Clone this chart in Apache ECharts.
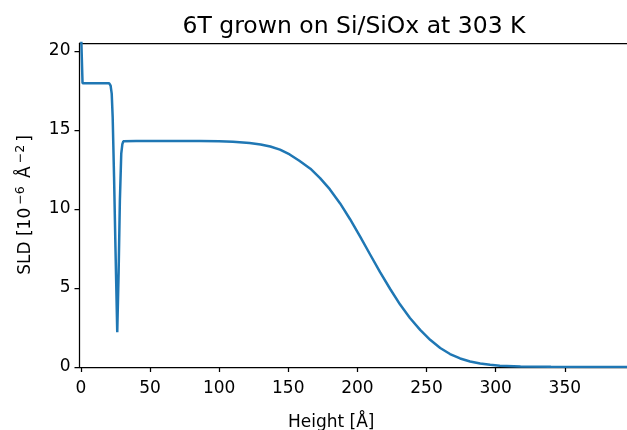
<!DOCTYPE html>
<html>
<head>
<meta charset="utf-8">
<script src="https://cdn.jsdelivr.net/npm/echarts@6/dist/echarts.min.js"></script>
<style>
  html, body { margin: 0; padding: 0; background: #fff; }
  #chart { width: 627px; height: 430px; }
</style>
</head>
<body>
<div id="chart"></div>
<script>
// SLD depth profile of a 6T film on Si/SiOx at 303 K
const heightA = [
  0.3, 1.2, 10, 20.5, 21.5, 22.3, 23, 24, 25, 26.3, 27.3, 28.2, 29.2, 30, 30.7,
  40, 60, 86, 100, 110, 122, 130, 137, 144, 151, 158, 166, 173, 180, 187.5,
  194.7, 202, 209, 216.4, 223.6, 230.9, 238, 245.4, 252.6, 259.9, 267, 274.3,
  281.5, 288.8, 296, 303, 318, 340, 370, 395
];
const sld = [
  20.7, 17.95, 17.95, 17.95, 17.8, 17.3, 15.8, 12.0, 7.6, 2.2, 6.0, 10.5, 13.5, 14.1, 14.28,
  14.3, 14.3, 14.3, 14.28, 14.25, 14.17, 14.08, 13.95, 13.75, 13.45, 13.05, 12.55, 11.95, 11.25, 10.35,
  9.35, 8.25, 7.15, 6.0, 4.95, 3.95, 3.1, 2.35, 1.72, 1.2, 0.82, 0.54,
  0.35, 0.22, 0.14, 0.08, 0.03, 0.01, 0.0, 0.0
];
const xTicks = [0, 50, 100, 150, 200, 250, 300, 350];
const yTicks = [0, 5, 10, 15, 20];

const points = heightA.map((h, i) => [h, sld[i]]);
const FONT = 'DejaVu Sans';
const axisLineStyle = { color: '#000', width: 1.25 };

const chart = echarts.init(document.getElementById('chart'), null, { renderer: 'canvas' });
chart.setOption({
  animation: false,
  backgroundColor: '#fff',
  title: {
    text: '6T grown on Si/SiOx at 303 K',
    left: 349, top: 10, textAlign: 'center',
    textStyle: { fontFamily: FONT, fontSize: 23.5, fontWeight: 'normal', color: '#000' }
  },
  grid: { left: 79.5, right: 0, top: 43, bottom: 63, outerBoundsMode: 'none', containLabel: false },
  xAxis: [{
    type: 'value', min: -1, max: 395,
    name: 'Height [Å]', nameLocation: 'middle', nameGap: 47,
    nameTextStyle: { fontFamily: FONT, fontSize: 17, color: '#000', padding: [0, 44, 0, 0] },
    axisLine: { show: true, onZero: false, lineStyle: axisLineStyle },
    axisTick: { show: true, inside: false, length: 5, customValues: xTicks, lineStyle: axisLineStyle },
    axisLabel: { customValues: xTicks, margin: 13, fontFamily: FONT, fontSize: 17, color: '#000' },
    splitLine: { show: false }
  }, {
    // top spine of the frame
    type: 'value', position: 'top', min: -1, max: 395,
    axisLine: { show: true, onZero: false, lineStyle: axisLineStyle },
    axisTick: { show: false }, axisLabel: { show: false }, splitLine: { show: false }
  }],
  yAxis: {
    type: 'value', min: 0, max: 20.5,
    name: '{n|SLD [10}{s|−6}{n| Å}{s|−2}{n|]}', nameLocation: 'middle', nameGap: 43, nameRotate: 90,
    nameTextStyle: {
      fontFamily: FONT, fontSize: 17, color: '#000',
      rich: {
        n: { fontFamily: FONT, fontSize: 17, color: '#000' },
        s: { fontFamily: FONT, fontSize: 12.5, color: '#000', padding: [0, 3, 9, 3] }
      }
    },
    axisLine: { show: true, onZero: false, lineStyle: axisLineStyle },
    axisTick: { show: true, inside: false, length: 5, customValues: yTicks, lineStyle: axisLineStyle },
    axisLabel: { customValues: yTicks, margin: 9, fontFamily: FONT, fontSize: 17, color: '#000' },
    splitLine: { show: false }
  },
  series: [{
    type: 'line', data: points, xAxisIndex: 0,
    showSymbol: false, smooth: false, clip: true,
    lineStyle: { color: '#1f77b4', width: 2.5 }
  }]
});
</script>
</body>
</html>
